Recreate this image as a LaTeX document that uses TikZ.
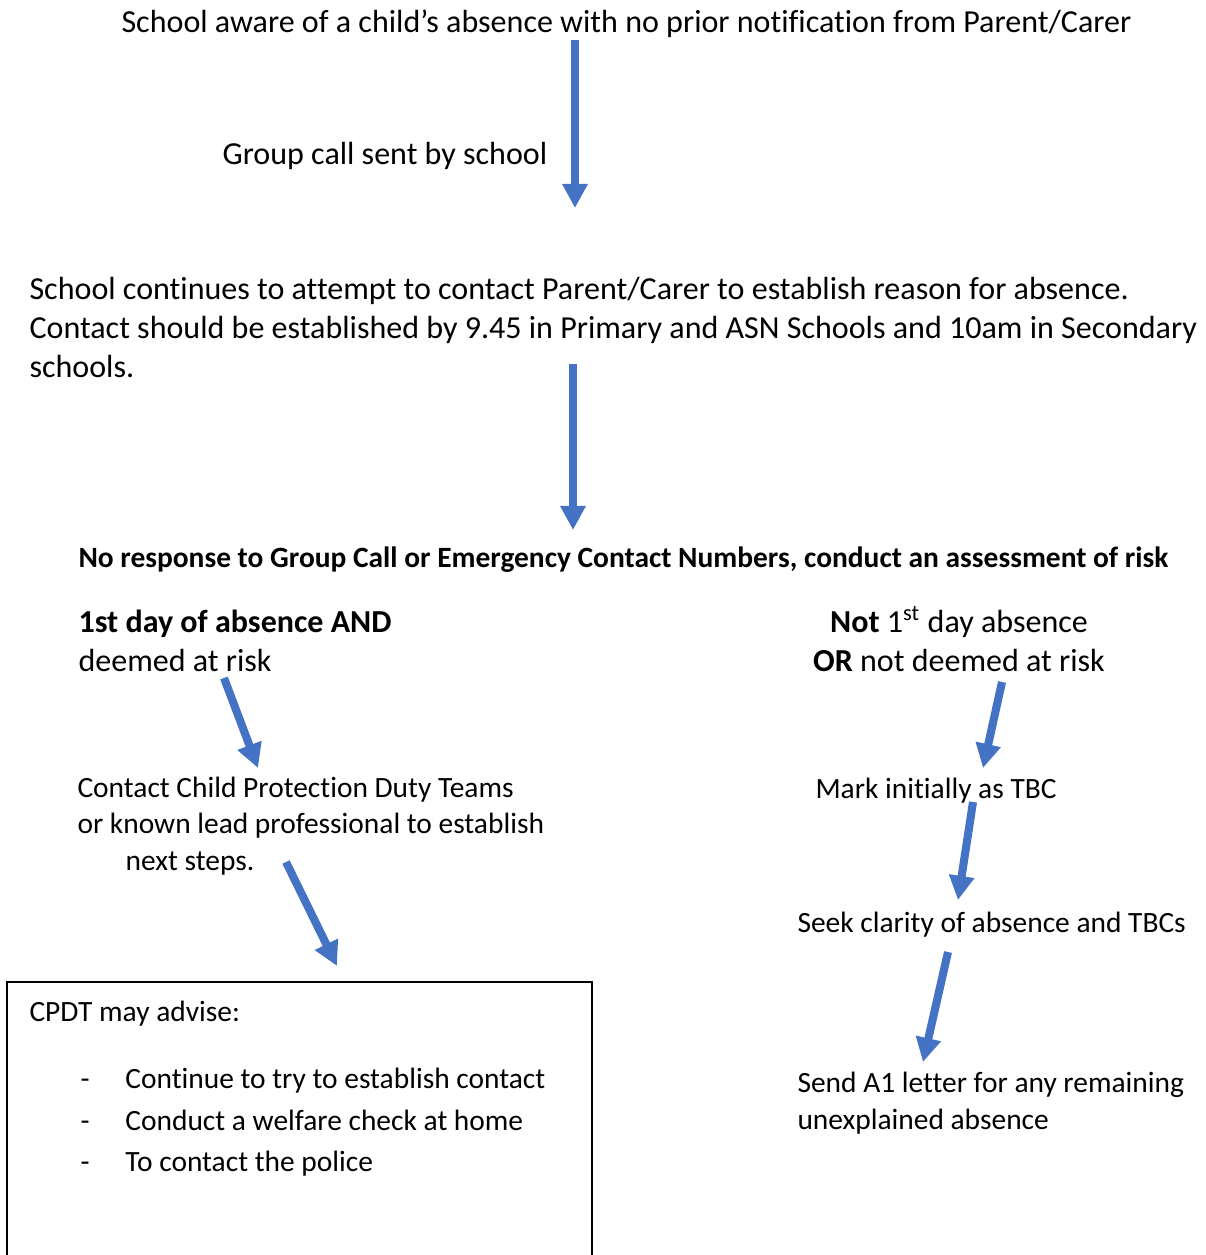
\documentclass[tikz,border=0pt]{standalone}
\usepackage{fontspec}
\setmainfont[Ligatures=NoCommon]{Carlito}
\usetikzlibrary{arrows.meta}
\definecolor{flowblue}{HTML}{4472C4}

\begin{document}
\begin{tikzpicture}[x=0.372pt,y=0.372pt]
\tikzset{every node/.style={inner sep=0pt,anchor=base west,align=left},
  big/.style={font=\fontsize{11.92pt}{14.5pt}\selectfont},
  small/.style={font=\fontsize{10.95pt}{13.4pt}\selectfont},
  flow/.style={flowblue,line width=3pt,-{Triangle[width=9pt,length=9pt]}}}
\useasboundingbox (0,0) rectangle (1205,-1255);
% texts (multi-line nodes sit on their last line)
\node[big] (aware) at (121,-32) {School aware of a child’s absence with no prior notification from Parent/Carer};
\node[big] (call) at (222,-164) {Group call sent by school};
\node[big] (attempt) at (29,-377) {School continues to attempt to contact Parent/Carer to establish reason for absence.\\
Contact should be established by 9.45 in Primary and ASN Schools and 10am in Secondary\\
schools.};
\node[small] (noresp) at (78,-567) {\textbf{No response to Group Call or Emergency Contact Numbers, conduct an assessment of risk}};
\node[big] (risk) at (78,-671) {\textbf{1st day of absence AND}\\deemed at risk};
\node[big,anchor=base,align=center] (norisk) at (959,-671) {\textbf{Not} 1\textsuperscript{st} day absence\\\textbf{OR} not deemed at risk};
\node[small] (cpdt) at (77,-870) {Contact Child Protection Duty Teams\\or known lead professional to establish\\\hspace*{17.9pt}next steps.};
\node[small] (tbc) at (815,-798) {Mark initially as TBC};
\node[small] (seek) at (797,-932) {Seek clarity of absence and TBCs};
\node[small] (letter) at (797,-1129) {Send A1 letter for any remaining\\unexplained absence};
% advice box
\draw[black,line width=0.6pt] (7,-1255) |- (592,-982) -- (592,-1255);
\node[small] (advise) at (29,-1021) {CPDT may advise:};
\node[small] (opt1) at (80,-1088) {\makebox[16.7pt][l]{-}Continue to try to establish contact};
\node[small] (opt2) at (80,-1130) {\makebox[16.7pt][l]{-}Conduct a welfare check at home};
\node[small] (opt3) at (80,-1171) {\makebox[16.7pt][l]{-}To contact the police};
% arrows
\coordinate (awareS) at (575,-40);  \coordinate (awareE) at (575,-208);
\coordinate (attS) at (573,-364);   \coordinate (attE) at (573,-530);
\coordinate (riskS) at (224,-678);  \coordinate (riskE) at (258,-768);
\coordinate (cpdtS) at (286,-862);  \coordinate (cpdtE) at (337,-966);
\coordinate (noS) at (1002,-682);   \coordinate (noE) at (983,-768);
\coordinate (tbcS) at (973,-802);   \coordinate (tbcE) at (958,-900);
\coordinate (seekS) at (948,-952);  \coordinate (seekE) at (923,-1062);
\draw[flow] (awareS) -- (awareE);
\draw[flow] (attS) -- (attE);
\draw[flow] (riskS) -- (riskE);
\draw[flow] (cpdtS) -- (cpdtE);
\draw[flow] (noS) -- (noE);
\draw[flow] (tbcS) -- (tbcE);
\draw[flow] (seekS) -- (seekE);
\end{tikzpicture}
\end{document}
